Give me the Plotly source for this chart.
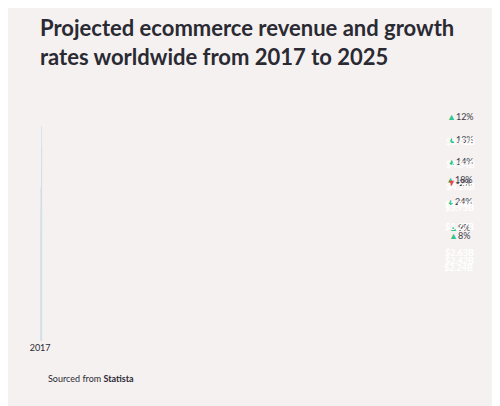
import plotly.graph_objects as go

years = ["2017", "2018", "2019", "2020", "2021", "2022", "2023", "2024", "2025"]
revenue = [2.24, 2.42, 2.63, 3.27, 3.84, 3.75, 4.28, 4.84, 5.42]
growth = [None, 8, 9, 24, 18, -2, 14, 13, 12]

fig = go.Figure(go.Bar(
    x=years, y=revenue,
    marker=dict(color="#1c4750", cornerradius=6),
    hoverinfo="skip",
))

# value labels inside the bars, growth labels above
for yr, v, g in zip(years, revenue, growth):
    fig.add_annotation(x=yr, y=v, text="<b>$%.2fB</b>" % v, showarrow=False,
                       yanchor="top", yshift=-8,
                       font=dict(color="white", size=9, family="Lato"))
    if g is None:
        continue
    if g >= 0:
        t = "<span style='color:#2fc58c'>▲</span>%d%%" % g
    else:
        t = "<span style='color:#e8453c'>▼</span>-%d%%" % abs(g)
    fig.add_annotation(x=yr, y=v, text=t, showarrow=False, yanchor="bottom",
                       yshift=2, font=dict(color="#3a3a44", size=9, family="Lato"))

fig.add_annotation(xref="paper", yref="paper", x=0.014, y=-0.19, xanchor="left",
                   text="Sourced from <b>Statista</b>", showarrow=False,
                   font=dict(color="#2a2a33", size=9, family="Lato"))

fig.update_layout(
    width=500, height=406,
    margin=dict(l=32, r=31, t=95, b=73),
    paper_bgcolor="#f6f1f1", plot_bgcolor="rgba(0,0,0,0)",
    bargap=0.24, showlegend=False,
    title=dict(text="<b>Projected ecommerce revenue and growth<br>rates worldwide from 2017 to 2025</b>",
               x=32/500, xanchor="left", xref="container",
               y=1-28/406, yanchor="top", yref="container",
               font=dict(size=22, color="#2a2a33", family="Lato")),
    xaxis=dict(type="category", showgrid=False, showline=False, ticks="",
               tickfont=dict(size=9, color="#2a2a33", family="Lato")),
    yaxis=dict(range=[0, 6], visible=False),
)

fig.write_html("out.html")
